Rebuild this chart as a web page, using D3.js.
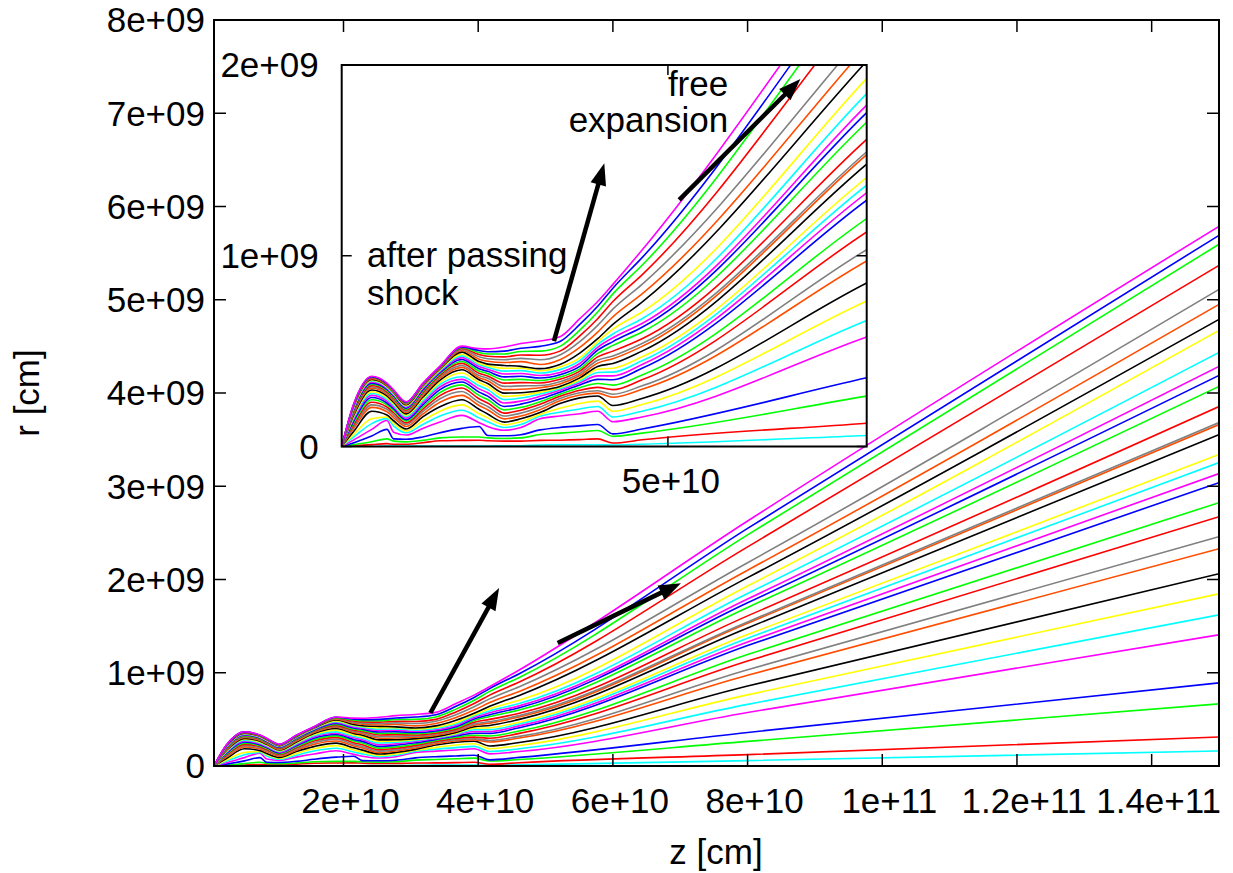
<!DOCTYPE html>
<html><head><meta charset="utf-8">
<script src="https://cdn.jsdelivr.net/npm/d3@7"></script>
<style>
body{margin:0;background:#fff}
text{font-family:"Liberation Sans",Arial,Helvetica,sans-serif;fill:#000}
</style>
</head><body>
<svg id="c" width="1233" height="873"></svg>
<script>
// ---------------- DATA ----------------
// axial positions of the sample points, in units of 1e10 cm
const zKnots = [0.077, 0.26, 0.53, 0.76, 0.86, 1.05, 1.3, 1.56, 1.89, 2.15, 2.28, 2.53, 2.78, 3.07, 3.37, 3.67, 3.94, 4.17, 4.61, 8.0, 15.0];

// radius of each streamline at those z, in units of 1e9 cm (bottom line first)
const streamlines = [
 [0,0,0,0.002,0.002,0.002,0.003,0.003,0.003,0.003,0.003,0.004,0.004,0.008,0.009,0.009,0.009,0.008,0.012,0.058,0.161],
 [0,0.004,0.01,0.015,0.012,0.012,0.02,0.03,0.032,0.033,0.03,0.028,0.028,0.032,0.033,0.036,0.04,0.018,0.035,0.122,0.311],
 [0,0.01,0.025,0.04,0.028,0.024,0.032,0.045,0.05,0.05,0.045,0.042,0.045,0.063,0.07,0.077,0.084,0.053,0.07,0.264,0.666],
 [0,0.02,0.055,0.09,0.04,0.038,0.05,0.072,0.095,0.105,0.058,0.056,0.062,0.087,0.1,0.108,0.115,0.066,0.092,0.36,0.891],
 [0,0.035,0.09,0.136,0.075,0.06,0.095,0.128,0.163,0.125,0.105,0.085,0.1,0.145,0.16,0.172,0.185,0.13,0.155,0.574,1.407],
 [0,0.05,0.12,0.146,0.108,0.072,0.115,0.16,0.19,0.15,0.13,0.1,0.115,0.158,0.18,0.197,0.21,0.155,0.185,0.661,1.621],
 [0,0.065,0.145,0.155,0.122,0.082,0.135,0.185,0.218,0.172,0.15,0.114,0.13,0.168,0.2,0.225,0.238,0.185,0.22,0.763,1.847],
 [0,0.08,0.185,0.165,0.135,0.092,0.155,0.208,0.245,0.195,0.17,0.128,0.145,0.178,0.225,0.255,0.265,0.215,0.252,0.857,2.062],
 [0,0.095,0.205,0.182,0.152,0.105,0.17,0.232,0.268,0.215,0.193,0.145,0.16,0.193,0.24,0.27,0.28,0.258,0.3,0.973,2.330],
 [0,0.105,0.218,0.195,0.165,0.115,0.183,0.25,0.288,0.232,0.21,0.16,0.175,0.207,0.252,0.282,0.292,0.274,0.318,1.032,2.459],
 [0,0.115,0.232,0.207,0.177,0.124,0.195,0.267,0.307,0.25,0.228,0.175,0.19,0.221,0.263,0.295,0.31,0.298,0.35,1.125,2.674],
 [0,0.125,0.245,0.218,0.188,0.133,0.207,0.283,0.323,0.268,0.246,0.192,0.205,0.235,0.274,0.308,0.33,0.322,0.375,1.195,2.824],
 [0,0.135,0.257,0.228,0.198,0.141,0.218,0.298,0.338,0.285,0.264,0.21,0.222,0.249,0.285,0.322,0.352,0.35,0.41,1.291,3.039],
 [0,0.145,0.268,0.238,0.207,0.149,0.229,0.312,0.352,0.302,0.282,0.228,0.238,0.263,0.295,0.333,0.37,0.37,0.43,1.33,3.136],
 [0,0.152,0.278,0.247,0.216,0.157,0.239,0.325,0.366,0.318,0.298,0.246,0.254,0.275,0.303,0.342,0.388,0.39,0.45,1.37,3.254],
 [0,0.159,0.287,0.256,0.224,0.164,0.249,0.337,0.385,0.334,0.315,0.263,0.268,0.285,0.31,0.35,0.405,0.41,0.47,1.41,3.340],
 [0,0.166,0.296,0.265,0.232,0.171,0.258,0.348,0.402,0.35,0.33,0.28,0.282,0.294,0.315,0.36,0.42,0.435,0.5,1.48,3.554],
 [0,0.172,0.305,0.273,0.24,0.178,0.267,0.358,0.415,0.36,0.345,0.298,0.3,0.308,0.328,0.372,0.437,0.46,0.525,1.53,3.662],
 [0,0.178,0.312,0.28,0.247,0.184,0.275,0.366,0.425,0.372,0.358,0.315,0.318,0.32,0.34,0.383,0.452,0.475,0.54,1.545,3.683],
 [0,0.184,0.319,0.287,0.253,0.19,0.283,0.374,0.436,0.384,0.37,0.332,0.335,0.333,0.352,0.395,0.47,0.5,0.565,1.61,3.855],
 [0,0.19,0.326,0.293,0.259,0.196,0.29,0.381,0.446,0.396,0.382,0.349,0.352,0.346,0.364,0.407,0.488,0.53,0.6,1.70,4.070],
 [0,0.195,0.332,0.299,0.265,0.201,0.297,0.387,0.456,0.408,0.394,0.365,0.368,0.359,0.376,0.42,0.505,0.55,0.625,1.75,4.188],
 [0,0.2,0.338,0.305,0.27,0.206,0.303,0.393,0.466,0.419,0.405,0.38,0.383,0.372,0.388,0.435,0.52,0.57,0.645,1.79,4.285],
 [0,0.204,0.343,0.31,0.275,0.211,0.309,0.398,0.475,0.429,0.415,0.395,0.398,0.385,0.403,0.45,0.535,0.59,0.67,1.85,4.435],
 [0,0.208,0.348,0.314,0.279,0.215,0.313,0.403,0.484,0.437,0.424,0.41,0.41,0.397,0.417,0.465,0.55,0.615,0.705,1.93,4.671],
 [0,0.212,0.352,0.318,0.283,0.219,0.317,0.407,0.495,0.445,0.432,0.425,0.42,0.408,0.43,0.49,0.565,0.64,0.757,2.02,4.789],
 [0,0.215,0.356,0.321,0.286,0.222,0.32,0.41,0.503,0.458,0.447,0.44,0.445,0.43,0.455,0.52,0.6,0.68,0.8,2.10,4.950],
 [0,0.218,0.359,0.324,0.289,0.225,0.323,0.413,0.51,0.47,0.46,0.455,0.462,0.455,0.48,0.55,0.635,0.72,0.85,2.18,5.111],
 [0,0.22,0.362,0.326,0.291,0.228,0.325,0.415,0.515,0.482,0.473,0.47,0.48,0.478,0.5,0.58,0.67,0.76,0.9,2.35,5.369],
 [0,0.222,0.364,0.328,0.293,0.23,0.327,0.417,0.519,0.493,0.485,0.485,0.498,0.5,0.525,0.61,0.705,0.8,0.95,2.478,5.595],
 [0,0.223,0.366,0.33,0.295,0.232,0.329,0.419,0.522,0.503,0.497,0.5,0.515,0.525,0.55,0.64,0.735,0.83,0.99,2.548,5.691],
 [0,0.225,0.368,0.332,0.297,0.234,0.331,0.421,0.526,0.513,0.512,0.522,0.54,0.553,0.575,0.67,0.76,0.85,1.03,2.627,5.788]
];

// tick values (same units) and their labels
const mainXTicks  = [2, 4, 6, 8, 10, 12, 14];
const mainXLabels = ["2e+10","4e+10","6e+10","8e+10","1e+11","1.2e+11","1.4e+11"];
const mainYTicks  = [0, 1, 2, 3, 4, 5, 6, 7, 8];
const mainYLabels = ["0","1e+09","2e+09","3e+09","4e+09","5e+09","6e+09","7e+09","8e+09"];
const insetXTicks  = [5];
const insetXLabels = ["5e+10"];
const insetYTicks  = [0, 1, 2];
const insetYLabels = ["0","1e+09","2e+09"];

// annotation arrows [z0, r0, z1, r1]
const mainArrows  = [[3.29, 0.568, 4.31, 1.908], [5.18, 1.318, 7.01, 1.961]];
const insetArrows = [[3.28, 0.553, 4.04, 1.485], [5.17, 1.293, 7.00, 1.926]];
const insetNotes = [
  {z: 0.46, r: 0.94, text: "after passing", anchor: "start"},
  {z: 0.46, r: 0.74, text: "shock", anchor: "start"},
  {z: 5.91, r: 1.84, text: "free", anchor: "end"},
  {z: 5.91, r: 1.65, text: "expansion", anchor: "end"}
];

// ---------------- STYLE ----------------
const palette = ["#ff0000","#00ff00","#0000ff","#ff00ff","#00ffff","#ffff00","#000000","#ff4d00","#808080"];
const lineColor = i => i === 0 ? palette[4] : palette[(i - 1) % 9];
const FS = 35;

const svg = d3.select("#c");
svg.append("rect").attr("width",1233).attr("height",873).attr("fill","#fff");
const defs = svg.append("defs");

function panel(opts){
  const {x, y, ticksX, labelsX, ticksY, labelsY, tick, padX, padY, shiftX, id, fill} = opts;
  const [x0, x1] = x.range(), [y0, y1] = y.range();
  defs.append("clipPath").attr("id", id).append("rect")
    .attr("x", x0).attr("y", y1).attr("width", x1 - x0).attr("height", y0 - y1);
  if (fill) svg.append("rect").attr("x", x0).attr("y", y1).attr("width", x1 - x0).attr("height", y0 - y1).attr("fill", "#fff");
  const g = svg.append("g").attr("clip-path", `url(#${id})`);
  const line = d3.line().x(d => x(d[0])).y(d => y(d[1])).curve(d3.curveMonotoneX);
  streamlines.forEach((row, i) => {
    g.append("path").datum(zKnots.map((z, k) => [z, row[k]]))
      .attr("d", line).attr("fill", "none").attr("stroke", lineColor(i))
      .attr("stroke-width", 1.6).attr("stroke-linejoin", "round");
  });
  const a = svg.append("g");
  ticksX.forEach(t => {
    a.append("line").attr("x1", x(t)).attr("x2", x(t)).attr("y1", y0).attr("y2", y0 - tick).attr("stroke", "#000").attr("stroke-width", 1.5);
    a.append("line").attr("x1", x(t)).attr("x2", x(t)).attr("y1", y1).attr("y2", y1 + tick).attr("stroke", "#000").attr("stroke-width", 1.5);
  });
  ticksY.forEach(t => {
    a.append("line").attr("x1", x0).attr("x2", x0 + tick).attr("y1", y(t)).attr("y2", y(t)).attr("stroke", "#000").attr("stroke-width", 1.5);
    a.append("line").attr("x1", x1).attr("x2", x1 - tick).attr("y1", y(t)).attr("y2", y(t)).attr("stroke", "#000").attr("stroke-width", 1.5);
  });
  a.append("rect").attr("x", x0).attr("y", y1).attr("width", x1 - x0).attr("height", y0 - y1)
    .attr("fill", "none").attr("stroke", "#000").attr("stroke-width", 2);
  ticksX.forEach((t, i) => {
    a.append("text").attr("x", x(t) + shiftX).attr("y", y0 + padX).attr("text-anchor", "middle")
      .attr("font-size", FS).text(labelsX[i]);
  });
  ticksY.forEach((t, i) => {
    a.append("text").attr("x", x0 - padY).attr("y", y(t)).attr("dy", "0.35em").attr("text-anchor", "end")
      .attr("font-size", FS).text(labelsY[i]);
  });
}

function arrows(list, x, y){
  list.forEach(([za, ra, zb, rb]) => {
    const ax = x(za), ay = y(ra), bx = x(zb), by = y(rb);
    const dx = bx - ax, dy = by - ay, L = Math.hypot(dx, dy), ux = dx / L, uy = dy / L;
    const hl = 22, hw = 8;
    const cx = bx - ux * hl, cy = by - uy * hl;
    svg.append("line").attr("x1", ax).attr("y1", ay).attr("x2", cx + ux * 2).attr("y2", cy + uy * 2)
      .attr("stroke", "#000").attr("stroke-width", 4.5);
    svg.append("polygon").attr("points",
      [[bx, by], [cx - uy * hw, cy + ux * hw], [cx + uy * hw, cy - ux * hw]].map(p => p.join(",")).join(" "))
      .attr("fill", "#000");
  });
}

// main panel
const xM = d3.scaleLinear().domain([0.077, 15]).range([214, 1219]);
const yM = d3.scaleLinear().domain([0, 8]).range([766, 20]);
panel({x: xM, y: yM, ticksX: mainXTicks, labelsX: mainXLabels, ticksY: mainYTicks, labelsY: mainYLabels,
       tick: 12, padX: 47, padY: 9, shiftX: 7, id: "clipM", fill: false});
arrows(mainArrows, xM, yM);

svg.append("text").attr("x", 716).attr("y", 864).attr("text-anchor", "middle").attr("font-size", FS).text("z [cm]");
svg.append("text").attr("transform", "translate(39,393) rotate(-90)").attr("text-anchor", "middle").attr("font-size", FS).text("r [cm]");

// inset panel
const xI = d3.scaleLinear().domain([0.077, 8]).range([341.7, 866.7]);
const yI = d3.scaleLinear().domain([0, 2]).range([446.5, 65]);
panel({x: xI, y: yI, ticksX: insetXTicks, labelsX: insetXLabels, ticksY: insetYTicks, labelsY: insetYLabels,
       tick: 10, padX: 46, padY: 23, shiftX: 3, id: "clipI", fill: true});
insetNotes.forEach(n => {
  svg.append("text").attr("x", xI(n.z)).attr("y", yI(n.r)).attr("text-anchor", n.anchor)
    .attr("font-size", FS).text(n.text);
});
arrows(insetArrows, xI, yI);
</script>
</body></html>
